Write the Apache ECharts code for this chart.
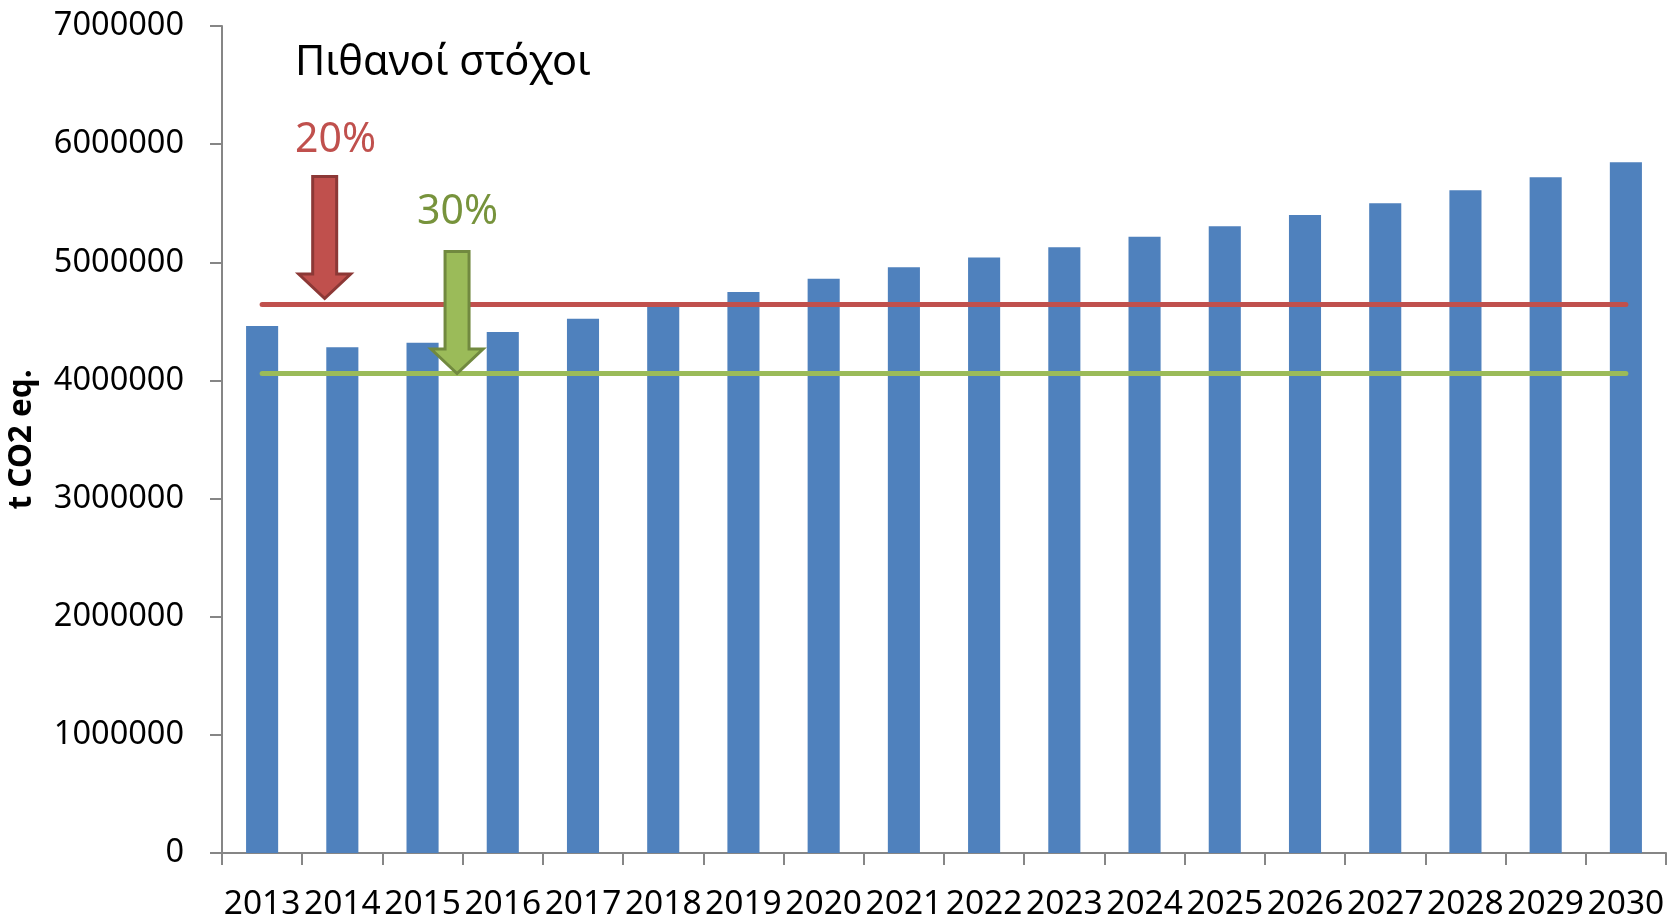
<!DOCTYPE html>
<html>
<head>
<meta charset="utf-8">
<title>Πιθανοί στόχοι</title>
<script src="https://cdn.jsdelivr.net/npm/echarts@6/dist/echarts.min.js"></script>
<style>
  html, body { margin: 0; padding: 0; background: #fff; }
  #chart { width: 1675px; height: 917px; }
</style>
</head>
<body>
<div id="chart"></div>
<script>
// Data
const years = ['2013', '2014', '2015', '2016', '2017', '2018', '2019', '2020', '2021',
  '2022', '2023', '2024', '2025', '2026', '2027', '2028', '2029', '2030']
const emissions = [4461000, 4280000, 4319000, 4410000, 4522000, 4626000, 4748000, 4861000, 4959000,
  5041000, 5128000, 5216000, 5306000, 5401000, 5500000, 5610000, 5720000, 5847000]
const target20 = 4647000
const target30 = 4063000
const yTicks = [0, 1000000, 2000000, 3000000, 4000000, 5000000, 6000000, 7000000]

const titleText = 'Πιθανοί στόχοι'
const label20 = '20%'
const label30 = '30%'

const FONT = '"Noto Sans", "Open Sans", sans-serif'
const axisGrey = '#868686'
const red = '#C0504D'
const green = '#9BBB59'

const chart = echarts.init(document.getElementById('chart'))

const targetLine = (value, color) => [
  { coord: [years[0], value], lineStyle: { color, width: 5, type: 'solid', cap: 'round' }, label: { show: false } },
  { coord: [years[years.length - 1], value] }
]

chart.setOption({
  animation: false,
  backgroundColor: '#fff',
  grid: { left: 222, right: 9, top: 26, bottom: 64, containLabel: false, outerBoundsMode: 'none' },
  xAxis: {
    type: 'category',
    data: years,
    boundaryGap: true,
    axisLine: { lineStyle: { color: axisGrey, width: 2 } },
    axisTick: { show: true, length: 12, inside: false, alignWithLabel: false, lineStyle: { color: axisGrey, width: 2 } },
    axisLabel: { interval: 0, margin: 34, color: '#000', fontSize: 33.5, fontFamily: FONT },
    splitLine: { show: false }
  },
  yAxis: {
    type: 'value',
    min: yTicks[0],
    max: yTicks[yTicks.length - 1],
    interval: yTicks[1] - yTicks[0],
    name: 't CO2 eq.',
    nameLocation: 'middle',
    nameGap: 184,
    nameRotate: 90,
    nameTextStyle: { color: '#000', fontSize: 31.5, fontWeight: 'bold', fontFamily: FONT },
    axisLine: { show: true, lineStyle: { color: axisGrey, width: 2 } },
    axisTick: { show: true, length: 12, lineStyle: { color: axisGrey, width: 2 } },
    axisLabel: { margin: 38, color: '#000', fontSize: 32.5, fontFamily: FONT, formatter: v => String(v) },
    splitLine: { show: false }
  },
  series: [{
    name: 'emissions',
    type: 'bar',
    data: emissions,
    barWidth: '40%',
    itemStyle: { color: '#4F81BD' },
    markLine: {
      silent: true,
      symbol: ['none', 'none'],
      z: 5,
      emphasis: { disabled: true },
      data: [targetLine(target20, red), targetLine(target30, green)]
    }
  }]
})

// Arrows pointing at the target lines (frac = offset from category centre, in bands)
const arrows = [
  { cat: 0, frac: 0.78, value: target20, dy: -3, fill: red, stroke: '#8C3836' },
  { cat: 2, frac: 0.43, value: target30, dy: 3, fill: green, stroke: '#71893F' }
]

const arrowShape = [[-12, -124.5], [12, -124.5], [12, -27], [26, -27], [0, -2.5], [-26, -27], [-12, -27]]

const band = chart.convertToPixel({ xAxisIndex: 0 }, 1) - chart.convertToPixel({ xAxisIndex: 0 }, 0)

const graphics = arrows.map(a => {
  const x = chart.convertToPixel({ xAxisIndex: 0 }, a.cat) + a.frac * band
  const y = chart.convertToPixel({ yAxisIndex: 0 }, a.value) + a.dy
  return {
    type: 'polygon',
    z: 100,
    shape: { points: arrowShape.map(p => [x + p[0], y + p[1]]) },
    style: { fill: a.fill, stroke: a.stroke, lineWidth: 3, lineJoin: 'miter' }
  }
})

graphics.push(
  {
    type: 'text', z: 100, left: 295, top: 42,
    style: { text: titleText, fill: '#000', font: '41.5px ' + FONT }
  },
  {
    type: 'text', z: 100, left: 295, top: 120,
    style: { text: label20, fill: red, font: '41px ' + FONT }
  },
  {
    type: 'text', z: 100, left: 417, top: 192,
    style: { text: label30, fill: '#77933C', font: '41px ' + FONT }
  }
)

chart.setOption({ graphic: graphics })
</script>
</body>
</html>
